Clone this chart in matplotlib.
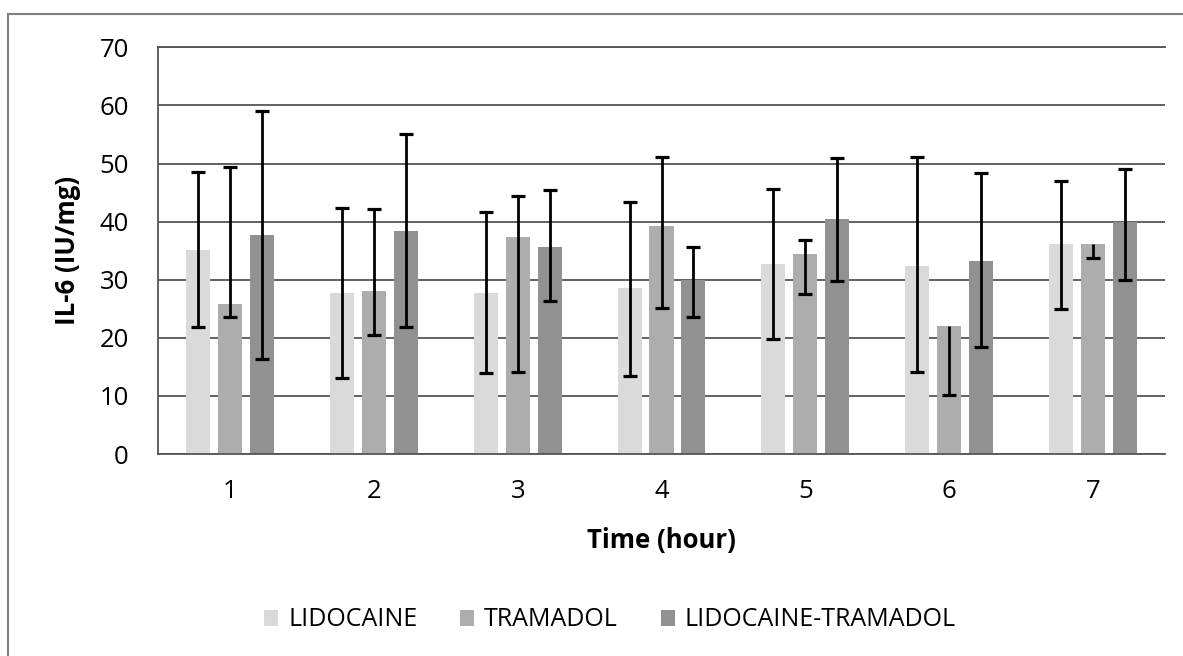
import numpy as np
import matplotlib.pyplot as plt
from matplotlib.lines import Line2D

plt.rcParams['font.family'] = ['Open Sans', 'DejaVu Sans']

# Data: bar heights and error bar ends
hours = ['1', '2', '3', '4', '5', '6', '7']
groups = ['LIDOCAINE', 'TRAMADOL', 'LIDOCAINE-TRAMADOL']
lido_mean = [35.1, 27.7, 27.7, 28.6, 32.7, 32.4, 36.1]
lido_low = [21.8, 13.1, 13.9, 13.4, 19.8, 14.1, 25.0]
lido_high = [48.6, 42.4, 41.6, 43.3, 45.6, 51.1, 47.0]
tram_mean = [25.9, 28.0, 37.3, 39.2, 34.4, 22.1, 36.1]
tram_low = [23.6, 20.4, 14.1, 25.1, 27.5, 10.1, 33.7]
tram_high = [49.4, 42.1, 44.4, 51.1, 36.9, 22.1, 36.1]
combo_mean = [37.7, 38.4, 35.7, 30.0, 40.4, 33.2, 39.9]
combo_low = [16.3, 21.8, 26.3, 23.6, 29.8, 18.4, 29.9]
combo_high = [59.1, 55.0, 45.4, 35.7, 50.9, 48.4, 49.1]

colors = ['#dadada', '#adadad', '#919191']
grid_col = '#555555'

fig = plt.figure(figsize=(11.83, 6.56), dpi=100)
ax = fig.add_axes([158 / 1183, 1 - 454 / 656, 1007 / 1183, 406.7 / 656])

x = np.arange(len(hours))
step = 0.222
width = 0.167
series = [(lido_mean, lido_low, lido_high),
          (tram_mean, tram_low, tram_high),
          (combo_mean, combo_low, combo_high)]

for i, (m, lo, hi) in enumerate(series):
    m = np.array(m)
    lo = np.array(lo)
    hi = np.array(hi)
    xs = x + (i - 1) * step
    ax.bar(xs, m, width=width, color=colors[i], label=groups[i], zorder=2)
    ax.errorbar(xs, m, yerr=[m - lo, hi - m], fmt='none', ecolor='black',
                elinewidth=2.0, capsize=0, zorder=3)
    # caps drawn separately so a zero-length side gets no cap
    ax.plot(xs, lo, ls='none', marker='_', ms=9.5, mew=2.3, color='black', zorder=3)
    has_up = hi > m
    ax.plot(xs[has_up], hi[has_up], ls='none', marker='_', ms=9.5, mew=2.3,
            color='black', zorder=3)

ax.set_xlim(-0.5, len(hours) - 0.5)
ax.set_ylim(0, 70)
ax.set_yticks(range(0, 71, 10))
ax.set_xticks(x)
ax.set_xticklabels(hours)
ax.set_axisbelow(True)
ax.yaxis.grid(True, color=grid_col, lw=1.3)
ax.tick_params(axis='both', length=0, labelsize=18.5, colors='black')
ax.tick_params(axis='y', pad=21)
ax.tick_params(axis='x', pad=18)

for side in ['left', 'top', 'bottom']:
    ax.spines[side].set_color(grid_col)
    ax.spines[side].set_linewidth(1.3)
ax.spines['right'].set_visible(False)

ax.set_ylabel('IL-6 (IU/mg)', fontsize=18.5, fontweight='bold')
ax.yaxis.set_label_coords(-0.0894, 0.5)
ax.yaxis.label.set_va('center')
ax.set_xlabel('Time (hour)', fontsize=18.5, fontweight='bold')
ax.xaxis.set_label_coords(0.5, -0.2115)
ax.xaxis.label.set_va('center')

fig.legend(loc='center', bbox_to_anchor=(610 / 1183, 1 - 620 / 656), ncol=3,
           frameon=False, fontsize=18, handlelength=0.56, handleheight=0.62,
           handletextpad=0.4, columnspacing=1.7)

# outer chart frame (only top and left edges fall inside the picture)
fx = 8 / 1183
fy = 1 - 14 / 656
fig.add_artist(Line2D([fx, fx], [-0.02, fy], transform=fig.transFigure,
                      color='#7f7f7f', lw=1.5))
fig.add_artist(Line2D([fx, 1.02], [fy, fy], transform=fig.transFigure,
                      color='#7f7f7f', lw=1.5))

fig.savefig('out.png', dpi=100)
